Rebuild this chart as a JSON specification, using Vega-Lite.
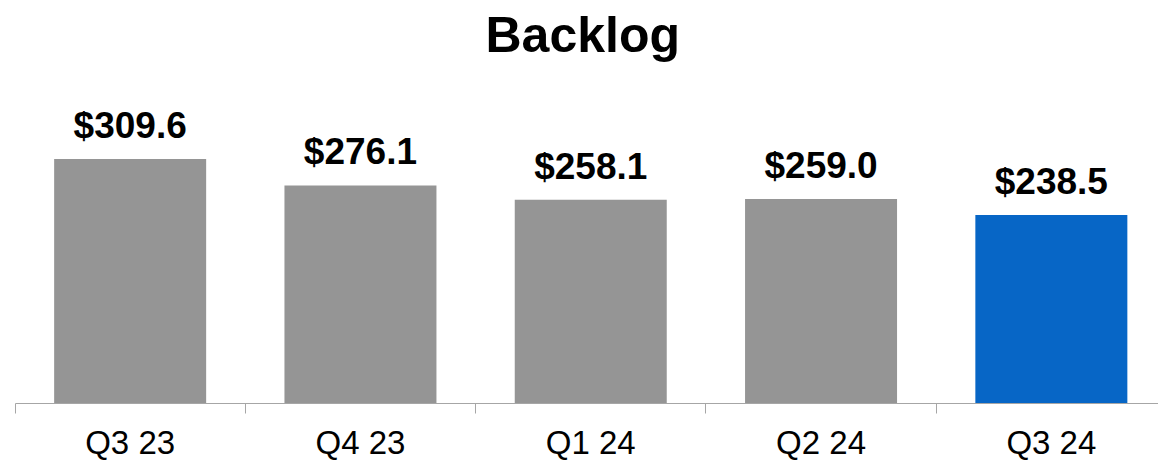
{
  "$schema": "https://vega.github.io/schema/vega-lite/v6.json",
  "autosize": "none",
  "width": 1151.5,
  "height": 323,
  "padding": {"left": 15, "top": 80, "right": 0, "bottom": 60},
  "background": "white",
  "config": {"view": {"stroke": null}, "font": "Liberation Sans"},
  "title": {"text": "Backlog", "fontSize": 50, "fontWeight": "bold", "font": "Liberation Sans", "color": "#000000", "anchor": "middle", "baseline": "alphabetic", "offset": 29, "dx": -8, "dy": 51},
  "data": {"values": [
    {"q": "Q3 23", "v": 309.6, "label": "$309.6", "cur": "no"},
    {"q": "Q4 23", "v": 276.1, "label": "$276.1", "cur": "no"},
    {"q": "Q1 24", "v": 258.1, "label": "$258.1", "cur": "no"},
    {"q": "Q2 24", "v": 259.0, "label": "$259.0", "cur": "no"},
    {"q": "Q3 24", "v": 238.5, "label": "$238.5", "cur": "yes"}
  ]},
  "encoding": {
    "x": {"field": "q", "type": "nominal", "sort": null,
      "scale": {"paddingInner": 0, "paddingOuter": 0},
      "axis": {"title": null, "labelAngle": 0, "labelFontSize": 33, "labelColor": "#000000", "labelFont": "Liberation Sans", "labelBaseline": "alphabetic", "labelPadding": 40, "tickSize": 10, "tickColor": "#a6a6a6", "domainColor": "#a6a6a6", "bandPosition": 0, "ticks": true}},
    "y": {"field": "v", "type": "quantitative", "scale": {"domain": [0, 410]}, "axis": null}
  },
  "layer": [
    {"mark": {"type": "bar", "width": {"band": 0.66}},
     "encoding": {"color": {"field": "cur", "type": "nominal", "scale": {"domain": ["no", "yes"], "range": ["#959595", "#0766c6"]}, "legend": null}}},
    {"mark": {"type": "text", "fontSize": 37, "fontWeight": "bold", "font": "Liberation Sans", "baseline": "alphabetic", "dy": -21, "color": "#000000"},
     "encoding": {"text": {"field": "label"}}}
  ]
}
